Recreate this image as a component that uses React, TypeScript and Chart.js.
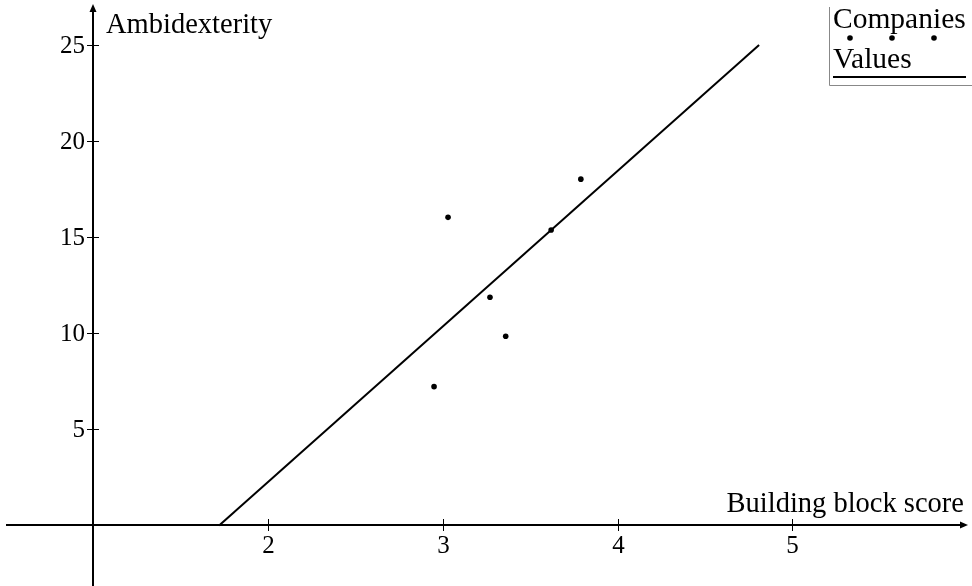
import { useEffect, useRef } from "react";
import { Chart, registerables } from "chart.js";

Chart.register(...registerables);

// Company observations: building block score vs. ambidexterity
const companyScores = [2.95, 3.03, 3.27, 3.36, 3.62, 3.79];
const companyAmbidexterity = [7.22, 16.03, 11.87, 9.84, 15.37, 18.02];

// Fitted trend line end points
const trendScores = [1.72, 4.81];
const trendAmbidexterity = [0, 25];

// Axis ticks and captions
const xTicks = [2, 3, 4, 5];
const yTicks = [5, 10, 15, 20, 25];
const xTitle = "Building block score";
const yTitle = "Ambidexterity";
const legendLabels = ["Companies", "Values"];

const FONT = '"Liberation Serif", "Times New Roman", serif';

const axesPlugin = {
  id: "crossAxes",
  beforeDatasetsDraw(chart: any) {
    const { ctx, scales } = chart;
    const xs = scales.x;
    const ys = scales.y;
    const ox = Math.round(xs.getPixelForValue(1));
    const oy = Math.round(ys.getPixelForValue(0));
    ctx.save();
    ctx.strokeStyle = "#000";
    ctx.fillStyle = "#000";
    ctx.lineWidth = 2;

    // horizontal axis with arrow
    ctx.beginPath();
    ctx.moveTo(6, oy);
    ctx.lineTo(962, oy);
    ctx.stroke();
    ctx.beginPath();
    ctx.moveTo(968, oy);
    ctx.lineTo(960, oy - 3.5);
    ctx.lineTo(960, oy + 3.5);
    ctx.closePath();
    ctx.fill();

    // vertical axis with arrow
    ctx.beginPath();
    ctx.moveTo(ox, 586);
    ctx.lineTo(ox, 10);
    ctx.stroke();
    ctx.beginPath();
    ctx.moveTo(ox, 4);
    ctx.lineTo(ox - 3.5, 12);
    ctx.lineTo(ox + 3.5, 12);
    ctx.closePath();
    ctx.fill();

    // tick marks and labels
    ctx.lineWidth = 1;
    ctx.font = `25px ${FONT}`;
    ctx.textAlign = "center";
    ctx.textBaseline = "top";
    xTicks.forEach((v) => {
      const px = Math.round(xs.getPixelForValue(v)) + 0.5;
      ctx.beginPath();
      ctx.moveTo(px, oy - 6);
      ctx.lineTo(px, oy + 6);
      ctx.stroke();
      ctx.fillText(String(v), px, oy + 9);
    });
    ctx.textAlign = "right";
    ctx.textBaseline = "middle";
    yTicks.forEach((v) => {
      const py = Math.round(ys.getPixelForValue(v)) + 0.5;
      ctx.beginPath();
      ctx.moveTo(ox - 6, py);
      ctx.lineTo(ox + 6, py);
      ctx.stroke();
      ctx.fillText(String(v), ox - 8, py + 1);
    });

    // axis captions
    ctx.font = `28.5px ${FONT}`;
    ctx.textBaseline = "alphabetic";
    ctx.textAlign = "left";
    ctx.fillText(yTitle, ox + 13, 33);
    ctx.textAlign = "right";
    ctx.fillText(xTitle, 964, oy - 13);
    ctx.restore();
  },
  afterDraw(chart: any) {
    const { ctx } = chart;
    ctx.save();
    // legend frame
    ctx.strokeStyle = "#888";
    ctx.lineWidth = 1;
    ctx.beginPath();
    ctx.moveTo(829.5, 7);
    ctx.lineTo(829.5, 85.5);
    ctx.lineTo(972, 85.5);
    ctx.stroke();

    ctx.fillStyle = "#000";
    ctx.font = `29.5px ${FONT}`;
    ctx.textAlign = "left";
    ctx.textBaseline = "alphabetic";
    ctx.fillText(legendLabels[0], 833, 28);
    [850, 892, 934].forEach((x) => {
      ctx.beginPath();
      ctx.arc(x, 38, 2.8, 0, Math.PI * 2);
      ctx.fill();
    });
    ctx.fillText(legendLabels[1], 833, 68);
    ctx.strokeStyle = "#000";
    ctx.lineWidth = 2;
    ctx.beginPath();
    ctx.moveTo(833, 77);
    ctx.lineTo(966, 77);
    ctx.stroke();
    ctx.restore();
  },
};

export default function App() {
  const canvasRef = useRef<HTMLCanvasElement | null>(null);

  useEffect(() => {
    const canvas = canvasRef.current;
    if (!canvas) return;
    const chart = new Chart(canvas, {
      type: "scatter",
      data: {
        datasets: [
          {
            label: legendLabels[0],
            data: companyScores.map((x, i) => ({ x, y: companyAmbidexterity[i] })),
            pointRadius: 2.8,
            pointBackgroundColor: "#000",
            pointBorderWidth: 0,
            showLine: false,
          },
          {
            type: "line",
            label: legendLabels[1],
            data: trendScores.map((x, i) => ({ x, y: trendAmbidexterity[i] })),
            borderColor: "#000",
            borderWidth: 2,
            pointRadius: 0,
            showLine: true,
            fill: false,
          },
        ],
      } as any,
      options: {
        responsive: false,
        animation: false,
        layout: { padding: 0, autoPadding: false },
        plugins: { legend: { display: false }, tooltip: { enabled: false } },
        scales: {
          x: { type: "linear", display: false, min: 0.4661, max: 6.0284 },
          y: { type: "linear", display: false, min: -3.154, max: 27.342 },
        },
      },
      plugins: [axesPlugin],
    });
    return () => chart.destroy();
  }, []);

  return (
    <div style={{ position: "fixed", left: 0, top: 0, width: 972, height: 586, background: "#fff" }}>
      <canvas ref={canvasRef} width={972} height={586} />
    </div>
  );
}
